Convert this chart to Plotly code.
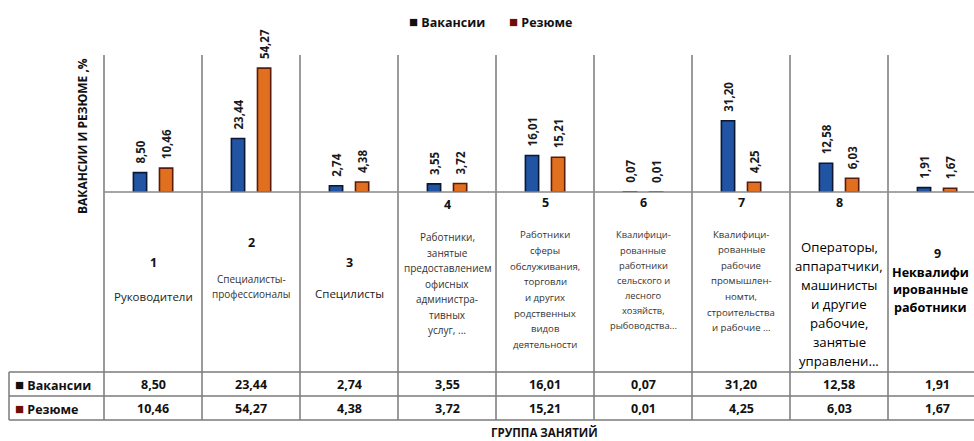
import plotly.graph_objects as go

# ---------------- data ----------------
cat_nums = ['1', '2', '3', '4', '5', '6', '7', '8', '9']
cat_names = [
    ['Руководители'],
    ['Специалисты-', 'профессионалы'],
    ['Специлисты'],
    ['Работники,', 'занятые', 'предоставлением', 'офисных', 'администра-', 'тивных', 'услуг, ...'],
    ['Работники', 'сферы', 'обслуживания,', 'торговли', 'и других', 'родственных', 'видов', 'деятельности'],
    ['Квалифици-', 'рованные', 'работники', 'сельского и', 'лесного', 'хозяйств,', 'рыбоводства...'],
    ['Квалифици-', 'рованные', 'рабочие', 'промышлен-', 'номти,', 'строительства', 'и рабочие ...'],
    ['Операторы,', 'аппаратчики,', 'машинисты', 'и другие', 'рабочие,', 'занятые', 'управлени...'],
    ['Неквалифи', 'ированные', 'работники'],
]
vacancies = [8.50, 23.44, 2.74, 3.55, 16.01, 0.07, 31.20, 12.58, 1.91]
resumes = [10.46, 54.27, 4.38, 3.72, 15.21, 0.01, 4.25, 6.03, 1.67]
series_names = ['Вакансии', 'Резюме']
y_title = 'ВАКАНСИИ И РЕЗЮМЕ ,%'
x_title = 'ГРУППА ЗАНЯТИЙ'

# ---------------- layout helpers ----------------
W, H = 974, 441
FONT = 'Open Sans'
def py(p):
    return 1 - p / H
def px(p):
    return p / W

col_px = 98.0          # pixel width of a column
left_px = 104.0        # pixel x of first column border
x0 = -0.5 - left_px / col_px
x1 = x0 + W / col_px
top_px, base_px = 55, 192
tab_top, tab_mid, tab_bot, tab_left = 372, 396, 420, 9

xs = list(range(len(cat_nums)))

fill_colors = ['#2254a4', '#e0701f']
edge_colors = ['#0b1733', '#5c1a08']
key_colors = ['#111111', '#6e0f05']
offsets = [-0.2, 0.066]
bw = 0.135

fig = go.Figure()
for name, vals, fc, ec, off in zip(series_names, [vacancies, resumes], fill_colors, edge_colors, offsets):
    fig.add_trace(go.Bar(
        x=xs, y=vals, name=name, width=bw, offset=off,
        marker=dict(color=fc, line=dict(color=ec, width=1.6)),
        texttemplate='\u00a0\u00a0<b>%{y:.2f}</b>', textposition='outside', textangle=-90,
        constraintext='none', cliponaxis=False,
        textfont=dict(family=FONT, size=11.5, color='#1a1a1a'),
        showlegend=False, hoverinfo='skip'))

shapes = []
line_col = '#7a7a7a'
# column borders
for i in range(len(cat_nums) + 1):
    shapes.append(dict(type='line', xref='x', yref='paper', x0=i - 0.5, x1=i - 0.5,
                       y0=py(top_px), y1=py(tab_bot), line=dict(color=line_col, width=1.5)))
# baseline
shapes.append(dict(type='line', xref='x', yref='paper', x0=-0.5, x1=x1,
                   y0=py(base_px), y1=py(base_px), line=dict(color='#8a8a8a', width=1.5)))
# table horizontal lines
for yy in [tab_top, tab_mid, tab_bot]:
    shapes.append(dict(type='line', xref='paper', yref='paper', x0=px(tab_left), x1=1,
                       y0=py(yy), y1=py(yy), line=dict(color=line_col, width=1.5)))
shapes.append(dict(type='line', xref='paper', yref='paper', x0=px(tab_left), x1=px(tab_left),
                   y0=py(tab_top), y1=py(tab_bot), line=dict(color=line_col, width=1.5)))

ann = []
# category label styles (layout only)
num_y = [262, 242, 262, 204, 203, 203, 203, 203, 253]
line_y0 = [296, 279, 293, 237, 235, 235, 234, 247, 272]
line_dy = [15, 15, 15, 15.5, 15.6, 15.0, 15.6, 19.0, 17.5]
name_size = [11.5, 10, 11.5, 10, 9.6, 9.3, 9.6, 13.2, 12.6]
name_col = ['#222', '#333', '#222', '#333', '#333', '#333', '#333', '#000', '#000']
name_bold = [False] * 7 + [False, True]
name_shift = [0] * 8 + [-0.07]

for i, (num, lines) in enumerate(zip(cat_nums, cat_names)):
    ann.append(dict(x=xs[i], y=py(num_y[i]), xref='x', yref='paper', text='<b>' + num + '</b>',
                    showarrow=False, font=dict(family=FONT, size=12.5, color='#111'),
                    xanchor='center', yanchor='middle'))
    for k, ln in enumerate(lines):
        t = '<b>' + ln + '</b>' if name_bold[i] else ln
        ann.append(dict(x=xs[i] + name_shift[i], y=py(line_y0[i] + k * line_dy[i]), xref='x', yref='paper',
                        text=t, showarrow=False,
                        font=dict(family=FONT, size=name_size[i], color=name_col[i]),
                        xanchor='center', yanchor='middle'))

# table rows
row_y = [(tab_top + tab_mid) / 2, (tab_mid + tab_bot) / 2]
for r, (name, vals, kc) in enumerate(zip(series_names, [vacancies, resumes], key_colors)):
    ann.append(dict(x=px(13), y=py(row_y[r]), xref='paper', yref='paper',
                    text='<span style="color:%s;font-size:15px">■</span> <b>%s</b>' % (kc, name),
                    showarrow=False, font=dict(family=FONT, size=12.5, color='#111'),
                    xanchor='left', yanchor='middle'))
    for i, v in enumerate(vals):
        ann.append(dict(x=xs[i], y=py(row_y[r]), xref='x', yref='paper',
                        text='<b>' + ('%.2f' % v).replace('.', ',') + '</b>',
                        showarrow=False, font=dict(family=FONT, size=12.5, color='#111'),
                        xanchor='center', yanchor='middle'))

# legend (top)
leg_x = [407, 507]
for name, kc, lx in zip(series_names, key_colors, leg_x):
    ann.append(dict(x=px(lx), y=py(21), xref='paper', yref='paper',
                    text='<span style="color:%s;font-size:15px">■</span> <b>%s</b>' % (kc, name),
                    showarrow=False, font=dict(family=FONT, size=12.5, color='#111'),
                    xanchor='left', yanchor='middle'))

# axis titles
ann.append(dict(x=px(82), y=py(136), xref='paper', yref='paper', text='<b>' + y_title + '</b>',
                textangle=-90, showarrow=False, font=dict(family=FONT, size=12, color='#111'),
                xanchor='center', yanchor='middle'))
ann.append(dict(x=px(544), y=py(432), xref='paper', yref='paper', text='<b>' + x_title + '</b>',
                showarrow=False, font=dict(family=FONT, size=11.5, color='#111'),
                xanchor='center', yanchor='middle'))

fig.update_layout(
    width=W, height=H, margin=dict(l=0, r=0, t=0, b=0),
    paper_bgcolor='white', plot_bgcolor='white',
    separators=', ', barmode='overlay', showlegend=False,
    xaxis=dict(range=[x0, x1], visible=False, fixedrange=True),
    yaxis=dict(range=[0, 60], domain=[py(base_px), py(top_px)], visible=False,
               showgrid=False, zeroline=False, fixedrange=True),
    shapes=shapes, annotations=ann,
    font=dict(family=FONT),
)

fig.write_html('out.html', config={'displayModeBar': False},
               post_script="document.body.style.margin='0';document.body.style.padding='0';")
